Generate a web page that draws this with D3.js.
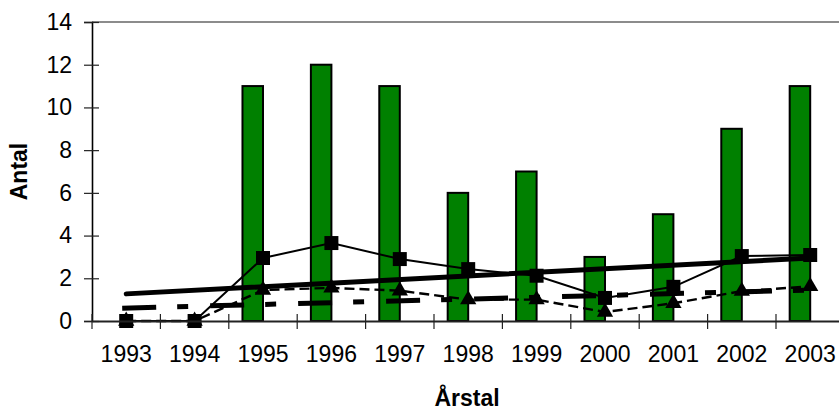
<!DOCTYPE html>
<html>
<head>
<meta charset="utf-8">
<script src="https://cdn.jsdelivr.net/npm/d3@7"></script>
<style>
  html, body { margin: 0; padding: 0; background: #fff; }
  svg { display: block; font-family: "Liberation Sans", Arial, sans-serif; }
</style>
</head>
<body>
<div id="chart"></div>
<script>
// values
const years = ['1993', '1994', '1995', '1996', '1997', '1998', '1999', '2000', '2001', '2002', '2003'];
const antal = [0, 0, 11, 12, 11, 6, 7, 3, 5, 9, 11];
const squareSeries = [0, 0, 2.95, 3.65, 2.9, 2.43, 2.12, 1.08, 1.6, 3.04, 3.09];
const triangleSeries = [0, 0, 1.45, 1.55, 1.42, 1.0, 1.0, 0.42, 0.83, 1.4, 1.62];
// trend lines, value at first and last year
const squareTrend = [1.27, 2.95];
const triangleTrend = [0.6, 1.45];
const yTicks = [0, 2, 4, 6, 8, 10, 12, 14];

const width = 839, height = 411;
const margin = {top: 22, left: 92, bottom: 90};
const plotRight = 844.4; // plot area runs a bit past the window edge

const svg = d3.select('#chart').append('svg')
  .attr('width', width)
  .attr('height', height);

const x = d3.scaleBand().domain(years).range([margin.left, plotRight]);
const y = d3.scaleLinear().domain([0, 14]).range([height - margin.bottom, margin.top]);
const cx = d => x(d) + x.bandwidth() / 2;

// plot area top border
svg.append('line')
  .attr('x1', margin.left).attr('x2', plotRight)
  .attr('y1', y(14)).attr('y2', y(14))
  .attr('stroke', '#8c8c8c').attr('stroke-width', 2);

// bars sit on the left half of each category
const barW = x.bandwidth() * 0.3;
svg.append('g').selectAll('rect')
  .data(antal)
  .join('rect')
  .attr('x', (d, i) => cx(years[i]) - barW)
  .attr('y', d => y(d))
  .attr('width', barW)
  .attr('height', d => y(0) - y(d))
  .attr('fill', '#008000')
  .attr('stroke', '#000')
  .attr('stroke-width', 2);

const line = d3.line()
  .x((d, i) => cx(years[i]))
  .y(d => y(d));

svg.append('path')
  .datum(triangleSeries)
  .attr('d', line)
  .attr('fill', 'none')
  .attr('stroke', '#000')
  .attr('stroke-width', 2.4)
  .attr('stroke-dasharray', '10,5');

svg.append('path')
  .datum(squareSeries)
  .attr('d', line)
  .attr('fill', 'none')
  .attr('stroke', '#000')
  .attr('stroke-width', 2);

// trend lines
const first = years[0], last = years[years.length - 1];
svg.append('line')
  .attr('x1', cx(first)).attr('x2', cx(last))
  .attr('y1', y(squareTrend[0])).attr('y2', y(squareTrend[1]))
  .attr('stroke', '#000').attr('stroke-width', 5).attr('stroke-linecap', 'round');

svg.append('line')
  .attr('x1', cx(first) - 4).attr('x2', cx(last))
  .attr('y1', y(triangleTrend[0])).attr('y2', y(triangleTrend[1]))
  .attr('stroke', '#000').attr('stroke-width', 5)
  .attr('stroke-dasharray', '34,21,11,22');

// markers
svg.append('g').selectAll('path')
  .data(triangleSeries)
  .join('path')
  .attr('transform', (d, i) => `translate(${cx(years[i])},${y(d)})`)
  .attr('d', d3.symbol(d3.symbolTriangle, 115))
  .attr('fill', '#000');

svg.append('g').selectAll('path')
  .data(squareSeries)
  .join('path')
  .attr('transform', (d, i) => `translate(${cx(years[i])},${y(d)})`)
  .attr('d', d3.symbol(d3.symbolSquare, 196))
  .attr('fill', '#000');

// axes
const yAxis = svg.append('g')
  .attr('transform', `translate(${margin.left},0)`)
  .call(d3.axisLeft(y).tickValues(yTicks).tickSize(8).tickPadding(12));
yAxis.select('.domain').attr('stroke', '#000').attr('stroke-width', 1.6);
yAxis.selectAll('.tick line').clone().attr('x2', 7);
yAxis.selectAll('.tick line').attr('stroke', '#222').attr('stroke-width', 1.2);
yAxis.selectAll('text').attr('font-size', 23).attr('fill', '#000')
  .style('font-family', '"Liberation Sans", Arial, sans-serif');

const xAxis = svg.append('g')
  .attr('transform', `translate(0,${y(0)})`)
  .call(d3.axisBottom(x).tickSize(0).tickPadding(25));
xAxis.select('.domain').attr('stroke', '#222').attr('stroke-width', 2);
xAxis.selectAll('text').attr('font-size', 23).attr('fill', '#000')
  .style('font-family', '"Liberation Sans", Arial, sans-serif');

// category separator ticks, crossing the axis
const edges = years.map(d => x(d)).concat([plotRight]);
svg.append('g').selectAll('line')
  .data(edges)
  .join('line')
  .attr('x1', d => d).attr('x2', d => d)
  .attr('y1', y(0) - 7).attr('y2', y(0) + 8)
  .attr('stroke', '#222').attr('stroke-width', 1.2);

// axis titles
svg.append('text')
  .attr('transform', `translate(27,${(y(0) + y(14)) / 2}) rotate(-90)`)
  .attr('text-anchor', 'middle')
  .attr('font-size', 23).attr('font-weight', 'bold')
  .text('Antal');

svg.append('text')
  .attr('x', 467).attr('y', 406)
  .attr('text-anchor', 'middle')
  .attr('font-size', 23).attr('font-weight', 'bold')
  .text('Årstal');
</script>
</body>
</html>
